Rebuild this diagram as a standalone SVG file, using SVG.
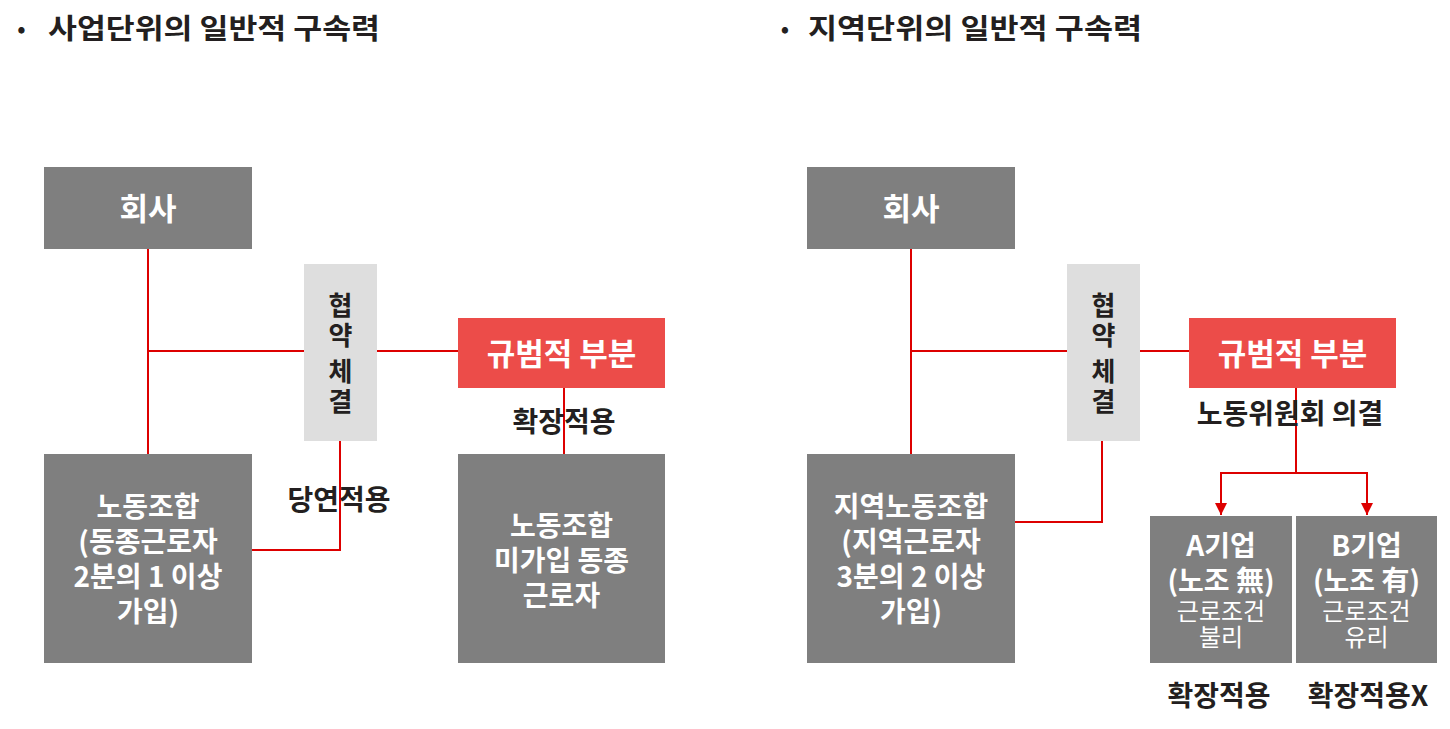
<svg xmlns="http://www.w3.org/2000/svg" width="1450" height="729" viewBox="0 0 1450 729">
<defs>
<style>
.t{font-family:"Noto Sans CJK KR","Noto Sans",sans-serif;font-weight:bold;fill:#231f20;}
.w{font-family:"Noto Sans CJK KR","Noto Sans",sans-serif;font-weight:bold;fill:#ffffff;text-anchor:middle;}
.wn{font-family:"Noto Sans CJK KR","Noto Sans",sans-serif;font-weight:normal;fill:#ffffff;text-anchor:middle;font-size:24px;}
.dk{fill:#7f7f7f;}
.lt{fill:#dedede;}
.rd{fill:#ec4c49;}
.ln{stroke:#dd0000;stroke-width:2;fill:none;}
.lb{font-family:"Noto Sans CJK KR","Noto Sans",sans-serif;font-weight:bold;fill:#231f20;text-anchor:middle;font-size:28px;}
</style>
<marker id="arr" markerUnits="userSpaceOnUse" markerWidth="12" markerHeight="12" refX="12" refY="6" orient="auto">
<path d="M0,0 L12,6 L0,12 z" fill="#dd0000"/>
</marker>
</defs>
<rect width="1450" height="729" fill="#ffffff"/>

<g id="titles">
<text class="t" x="21.5" y="37" font-size="22" text-anchor="middle">•</text>
<text class="t" x="48" y="39" font-size="28" textLength="332" lengthAdjust="spacingAndGlyphs">사업단위의 일반적 구속력</text>
<text class="t" x="785" y="37" font-size="22" text-anchor="middle">•</text>
<text class="t" x="808" y="39" font-size="28" textLength="334" lengthAdjust="spacingAndGlyphs">지역단위의 일반적 구속력</text>
</g>

<g id="connectors">
<path class="ln" d="M148,249 V454 M148,351 H304 M377,351 H458 M340,441 V550 H252 M564,388 V454"/>
<path class="ln" d="M911,249 V454 M911,351 H1068 M1140,351 H1189 M1102,441 V522 H1015 M1296,388 V473"/>
<path class="ln" d="M1296,473 H1221 V515" marker-end="url(#arr)"/>
<path class="ln" d="M1296,473 H1367 V515" marker-end="url(#arr)"/>
</g>

<g id="left-company">
<rect class="dk" x="44" y="167" width="208" height="82"/>
<text class="w" x="148" y="220" font-size="31">회사</text>
</g>
<g id="left-agreement">
<rect class="lt" x="304" y="264" width="73" height="177"/>
<text class="t" font-size="26" text-anchor="middle"><tspan x="340.5" y="315">협</tspan><tspan x="340.5" y="345">약</tspan><tspan x="340.5" y="381">체</tspan><tspan x="340.5" y="411">결</tspan></text>
</g>
<g id="left-normative">
<rect class="rd" x="458" y="318" width="207" height="70"/>
<text class="w" x="561.5" y="365" font-size="31">규범적 부분</text>
</g>
<g id="left-union">
<rect class="dk" x="44" y="454" width="208" height="209"/>
<text class="w" font-size="28"><tspan x="148" y="517">노동조합</tspan><tspan x="148" y="552">(동종근로자</tspan><tspan x="148" y="587">2분의 1 이상</tspan><tspan x="148" y="622">가입)</tspan></text>
</g>
<g id="left-nonunion">
<rect class="dk" x="458" y="454" width="207" height="209"/>
<text class="w" font-size="28"><tspan x="561.5" y="536">노동조합</tspan><tspan x="561.5" y="571">미가입 동종</tspan><tspan x="561.5" y="606">근로자</tspan></text>
</g>
<g id="left-labels">
<text class="lb" x="564" y="432">확장적용</text>
<text class="lb" x="339" y="510">당연적용</text>
</g>

<g id="right-company">
<rect class="dk" x="807" y="167" width="208" height="82"/>
<text class="w" x="911" y="220" font-size="31">회사</text>
</g>
<g id="right-agreement">
<rect class="lt" x="1067" y="264" width="73" height="177"/>
<text class="t" font-size="26" text-anchor="middle"><tspan x="1103.5" y="315">협</tspan><tspan x="1103.5" y="345">약</tspan><tspan x="1103.5" y="381">체</tspan><tspan x="1103.5" y="411">결</tspan></text>
</g>
<g id="right-normative">
<rect class="rd" x="1189" y="318" width="207" height="70"/>
<text class="w" x="1292.5" y="365" font-size="31">규범적 부분</text>
</g>
<g id="right-union">
<rect class="dk" x="807" y="454" width="208" height="209"/>
<text class="w" font-size="28"><tspan x="911" y="517">지역노동조합</tspan><tspan x="911" y="552">(지역근로자</tspan><tspan x="911" y="587">3분의 2 이상</tspan><tspan x="911" y="622">가입)</tspan></text>
</g>
<g id="company-a">
<rect class="dk" x="1150" y="516" width="142" height="147"/>
<text class="w" font-size="28"><tspan x="1221" y="556">A기업</tspan><tspan x="1221" y="591">(노조 無)</tspan></text>
<text class="wn"><tspan x="1221" y="620">근로조건</tspan><tspan x="1221" y="646">불리</tspan></text>
</g>
<g id="company-b">
<rect class="dk" x="1296" y="516" width="141" height="147"/>
<text class="w" font-size="28"><tspan x="1366.5" y="556">B기업</tspan><tspan x="1366.5" y="591">(노조 有)</tspan></text>
<text class="wn"><tspan x="1366.5" y="620">근로조건</tspan><tspan x="1366.5" y="646">유리</tspan></text>
</g>
<g id="right-labels">
<text class="lb" x="1290" y="424" font-size="29">노동위원회 의결</text>
<text class="lb" x="1219" y="706" font-size="29">확장적용</text>
<text class="lb" x="1368" y="706" font-size="29">확장적용X</text>
</g>
</svg>
